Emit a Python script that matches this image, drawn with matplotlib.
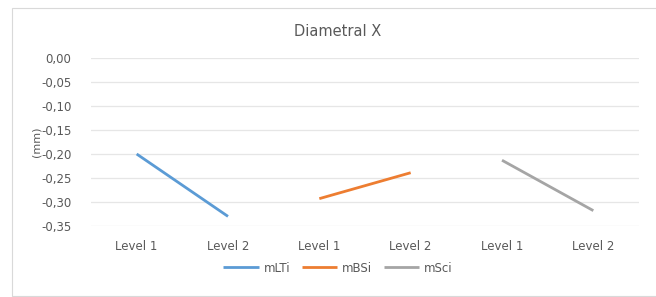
import matplotlib.pyplot as plt
from matplotlib.patches import Rectangle
import numpy as np

categories = ["Level 1", "Level 2", "Level 1", "Level 2", "Level 1", "Level 2"]
series_names = ["mLTi", "mBSi", "mSci"]
mLTi = [-0.200, -0.330, np.nan, np.nan, np.nan, np.nan]
mBSi = [np.nan, np.nan, -0.293, -0.239, np.nan, np.nan]
mSci = [np.nan, np.nan, np.nan, np.nan, -0.213, -0.318]
colors = ["#5B9BD5", "#ED7D31", "#A5A5A5"]
yticks = [0.0, -0.05, -0.10, -0.15, -0.20, -0.25, -0.30, -0.35]

W, H = 656, 297
fig = plt.figure(figsize=(W / 100, H / 100), dpi=100)
fig.patch.set_facecolor("white")

# outer chart border (right edge runs off the image)
fig.add_artist(Rectangle((12 / W, 1 / H), 660 / W, 288 / H, transform=fig.transFigure,
                         fill=False, edgecolor="#D9D9D9", linewidth=0.8))

ax = fig.add_axes([91 / W, (H - 226) / H, 548 / W, 168 / H])
x = np.arange(len(categories))
for name, vals, c in zip(series_names, [mLTi, mBSi, mSci], colors):
    ax.plot(x, vals, color=c, linewidth=2.0, label=name, solid_capstyle="butt")

ax.set_xlim(-0.5, len(categories) - 0.5)
ax.set_ylim(-0.35, 0.0)
ax.set_yticks(yticks)
ax.set_yticklabels([f"{v:.2f}".replace(".", ",") for v in yticks])
ax.set_xticks(x)
ax.set_xticklabels(categories)
ax.tick_params(axis="both", length=0, labelsize=8.5, colors="#595959")
ax.tick_params(axis="x", pad=10)
ax.tick_params(axis="y", pad=14)
for s in ax.spines.values():
    s.set_visible(False)
ax.grid(axis="y", color="#E6E6E6", linewidth=0.9)
ax.set_axisbelow(True)
ax.set_ylabel("(mm)", fontsize=8, color="#595959", labelpad=0)

fig.text(338 / W, 1 - 32 / H, "Diametral X", ha="center", va="center", fontsize=10.5, color="#595959")

leg = fig.legend(loc="center", bbox_to_anchor=(338 / W, 1 - 268 / H), ncol=3, frameon=False,
                 fontsize=8.5, handlelength=3.0, columnspacing=1.0, handletextpad=0.4)
for t in leg.get_texts():
    t.set_color("#595959")

fig.savefig("out.png", dpi=100)
